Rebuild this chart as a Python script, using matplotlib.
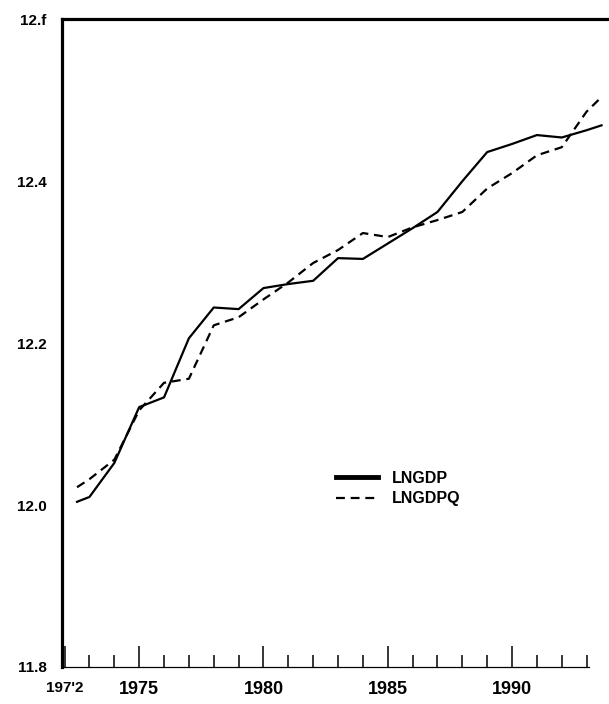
"""LNGDP 与 LNGDPQ 对比折线图（按扫描图复原）"""
import matplotlib
matplotlib.use("Agg")
import matplotlib.pyplot as plt

# 数据：年份（首尾为半年位置）与两条对数 GDP 序列
years = [1972.5, 1973, 1974, 1975, 1976, 1977, 1978, 1979, 1980, 1981, 1982,
         1983, 1984, 1985, 1986, 1987, 1988, 1989, 1990, 1991, 1992, 1993, 1993.6]
lngdp = [12.004, 12.010, 12.052, 12.121, 12.133, 12.206, 12.244, 12.242, 12.268,
         12.273, 12.277, 12.305, 12.304, 12.323, 12.342, 12.362, 12.400, 12.436,
         12.446, 12.457, 12.454, 12.463, 12.469]
lngdpq = [12.022, 12.032, 12.056, 12.117, 12.151, 12.156, 12.222, 12.232, 12.254,
          12.275, 12.299, 12.315, 12.336, 12.331, 12.343, 12.352, 12.362, 12.391,
          12.410, 12.432, 12.442, 12.486, 12.504]

xtick_years = list(range(1973, 1994))
xlabel_years = [1972, 1975, 1980, 1985, 1990]
xlabel_text = ["197'2", "1975", "1980", "1985", "1990"]
ytick_vals = [11.8, 12.0, 12.2, 12.4, 12.6]
ytick_text = ["11.8", "12.0", "12.2", "12.4", "12.f"]

plt.rcParams["font.family"] = ["Liberation Sans", "DejaVu Sans"]

fig = plt.figure(figsize=(6.09, 7.04), dpi=100)
ax = fig.add_axes([0.102, 0.0526, 0.898, 0.920])

ax.plot(years, lngdp, color="black", lw=1.6, label="LNGDP")
ax.plot(years, lngdpq, color="black", lw=1.6, linestyle=(0, (4, 2.6)), label="LNGDPQ")

ax.set_xlim(1971.9, 1993.9)
ax.set_ylim(11.8, 12.6)

# 边框：左、上粗，右无，下细且较短
ax.spines["left"].set_linewidth(2.3)
ax.spines["top"].set_linewidth(2.3)
ax.spines["right"].set_visible(False)
ax.spines["bottom"].set_linewidth(0.9)
ax.spines["bottom"].set_bounds(1971.9, 1993.1)

# x 轴刻度：每年短刻度，五年长刻度，朝内
ax.set_xticks(xtick_years, minor=True)
ax.set_xticks(xlabel_years)
ax.set_xticklabels(xlabel_text, fontsize=13, fontweight="bold")
ax.tick_params(axis="x", which="minor", direction="in", length=8.5, width=1.1)
ax.tick_params(axis="x", which="major", direction="in", length=15, width=1.1, pad=10)
ax.get_xticklabels()[0].set_fontsize(11)

ax.set_yticks(ytick_vals)
ax.set_yticklabels(ytick_text, fontsize=11, fontweight="bold")
ax.tick_params(axis="y", length=0, pad=11)

leg = ax.legend(loc="upper left", bbox_to_anchor=(0.475, 0.325), frameon=False,
                handlelength=2.6, handletextpad=0.9, labelspacing=0.35,
                prop={"size": 11.5, "weight": "bold"})
leg.get_lines()[0].set_linewidth(3.5)

fig.savefig("out.png", dpi=100)
